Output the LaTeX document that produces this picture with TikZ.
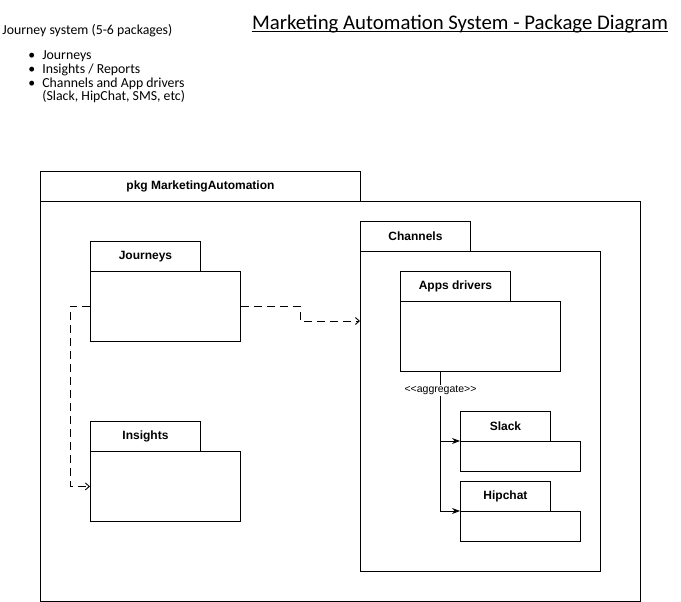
\documentclass[tikz,border=0pt]{standalone}
\usepackage{fontspec}
\setmainfont{Liberation Sans}
\newfontfamily\handfont{Carlito}
\usetikzlibrary{arrows.meta}

\begin{document}
\begin{tikzpicture}[x=1pt,y=-1pt,line width=0.9pt]
  \tikzstyle{tab}=[draw,rectangle,anchor=north west,inner sep=0pt,font=\bfseries\fontsize{12}{14}\selectfont]
  \tikzstyle{body}=[draw,rectangle,anchor=north west,inner sep=0pt]
  \tikzstyle{hand}=[anchor=base west,inner sep=0pt,font=\handfont\fontsize{13.8}{16}\selectfont]
  \tikzstyle{dep}=[draw,dash pattern=on 8pt off 5pt,-{Straight Barb[length=4pt,width=7pt]}]
  \tikzstyle{agg}=[draw,-{Stealth[length=8pt,width=6pt]}]
  \useasboundingbox (0,0) rectangle (681,602);
  % notes
  \node[hand] (notehead) at (2,34.5) {Journey system (5-6 packages)};
  \node[hand] (bullet1) at (28,60) {\textbullet\hspace{7pt}Journeys};
  \node[hand] (bullet2) at (28,73.7) {\textbullet\hspace{7pt}Insights / Reports};
  \node[hand] (bullet3) at (28,87.4) {\textbullet\hspace{7pt}Channels and App drivers};
  \node[hand] (bullet3b) at (42,101) {(Slack, HipChat, SMS, etc)};
  \node[font=\handfont\fontsize{20.8}{24}\selectfont,inner sep=0pt,anchor=base] (title) at (460,30) {Marketing Automation System - Package Diagram};
  \draw[line width=0.8pt] ([yshift=-1.8pt]title.base west) -- ([yshift=-1.8pt]title.base east);
  % outer package
  \node[body,minimum width=600pt,minimum height=400pt] (mabody) at (40,201) {};
  \node[tab,minimum width=320pt,minimum height=30pt] (matab) at (40,171) {pkg MarketingAutomation};
  % journeys
  \node[body,minimum width=150pt,minimum height=70pt] (journeysbody) at (90,271) {};
  \node[tab,minimum width=110pt,minimum height=30pt] (journeystab) at (90,241) {Journeys};
  % insights
  \node[body,minimum width=150pt,minimum height=70pt] (insightsbody) at (90,451) {};
  \node[tab,minimum width=110pt,minimum height=30pt] (insightstab) at (90,421) {Insights};
  % channels
  \node[body,minimum width=240pt,minimum height=320pt] (channelsbody) at (360,251) {};
  \node[tab,minimum width=110pt,minimum height=30pt] (channelstab) at (360,221) {Channels};
  \node[body,minimum width=160pt,minimum height=70pt] (appsbody) at (400,301) {};
  \node[tab,minimum width=110pt,minimum height=30pt] (appstab) at (400,271) {Apps drivers};
  \node[body,minimum width=120pt,minimum height=30pt] (slackbody) at (460,441) {};
  \node[tab,minimum width=90pt,minimum height=30pt] (slacktab) at (460,411) {Slack};
  \node[body,minimum width=120pt,minimum height=30pt] (hipchatbody) at (460,511) {};
  \node[tab,minimum width=90pt,minimum height=30pt] (hipchattab) at (460,481) {Hipchat};
  % dependencies
  \draw[dep] (journeysbody.east) -| (300,321) -- (channelsbody.west |- 300,321);
  \draw[dep] (journeysbody.west) -- ++(-20,0) |- (insightsbody.west);
  % aggregate
  \coordinate (aggtop) at ([xshift=40pt]appsbody.south west);
  \draw[agg] (aggtop) |- (slackbody.north west);
  \draw[agg] (aggtop) |- (hipchatbody.north west);
  \node[fill=white,inner sep=1pt,font=\fontsize{10.5}{12}\selectfont] (agglabel) at (440.5,390.5) {{<}{<}aggregate{>}{>}};
\end{tikzpicture}
\end{document}
